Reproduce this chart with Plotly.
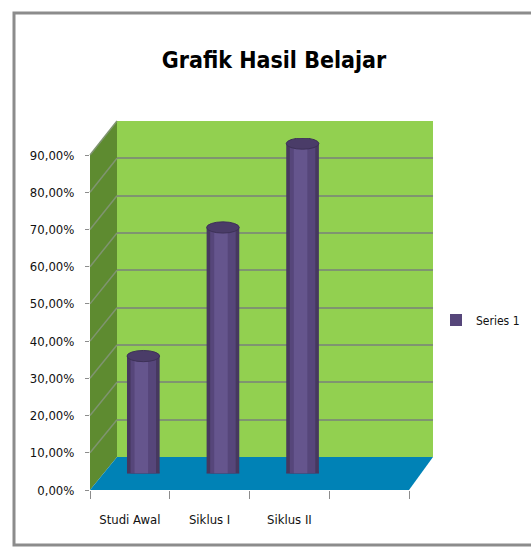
import plotly.graph_objects as go

# ---- data ----
categories = ["Studi Awal", "Siklus I", "Siklus II"]
values = [0.315, 0.66, 0.885]
series_name = "Series 1"
y_ticks = [0, 0.1, 0.2, 0.3, 0.4, 0.5, 0.6, 0.7, 0.8, 0.9]
title_text = "Grafik Hasil Belajar"

W, H = 531, 548
FONT = "Liberation Sans Narrow, DejaVu Sans Condensed, Arial Narrow, sans-serif"

def px_x(p):
    return p / W

def px_y(p):
    return 1 - p / H

# domains (pixel based)
front_x = [px_x(90), px_x(409)]
front_y = [px_y(490), px_y(155)]
back_x = [px_x(117), px_x(433)]
back_y = [px_y(457), px_y(121)]
bar_x = [px_x(103.5), px_x(422)]
bar_y = [px_y(473.5), px_y(138)]
YMAX = 0.9

fig = go.Figure()

# empty helper traces so that the wall-grid and front axes get drawn
fig.add_trace(go.Scatter(x=[None], y=[None], xaxis="x", yaxis="y", showlegend=False, hoverinfo="skip"))
fig.add_trace(go.Scatter(x=[None], y=[None], xaxis="x2", yaxis="y2", showlegend=False, hoverinfo="skip"))

# cylinder bodies (layered for shading)
fig.add_trace(go.Bar(x=categories, y=values, width=0.41, marker=dict(color="#46385F", line=dict(width=0)),
                     xaxis="x3", yaxis="y3", showlegend=False, hoverinfo="skip"))
fig.add_trace(go.Bar(x=categories, y=values, width=0.32, marker=dict(color="#56467A", line=dict(width=0)),
                     xaxis="x3", yaxis="y3", name=series_name, showlegend=True))
fig.add_trace(go.Bar(x=categories, y=values, width=0.17, offset=-0.11, marker=dict(color="#65558D", line=dict(width=0)),
                     xaxis="x3", yaxis="y3", showlegend=False, hoverinfo="skip"))

shapes = []
def P(x, y):
    return f"{px_x(x)},{px_y(y)}"

shapes.append(dict(type="rect", xref="paper", yref="paper", x0=back_x[0], x1=back_x[1], y0=back_y[0], y1=back_y[1],
                   fillcolor="#92D050", line=dict(width=0), layer="below"))
shapes.append(dict(type="path", xref="paper", yref="paper",
                   path=f"M{P(90,490)} L{P(90,155)} L{P(117,121)} L{P(117,457)} Z",
                   fillcolor="#5E8B30", line=dict(width=0), layer="below"))
shapes.append(dict(type="path", xref="paper", yref="paper",
                   path=f"M{P(90,490)} L{P(409,490)} L{P(433,457)} L{P(117,457)} Z",
                   fillcolor="#0082B6", line=dict(width=0), layer="below"))
for v in y_ticks[1:]:
    fy = 490 - v / YMAX * (490 - 155)
    by = 457 - v / YMAX * (457 - 121)
    shapes.append(dict(type="line", xref="paper", yref="paper", x0=px_x(90), y0=px_y(fy), x1=px_x(117), y1=px_y(by),
                       line=dict(color="#7F9470", width=1.5), layer="below"))

for i, v in enumerate(values):
    shapes.append(dict(type="circle", xref="x3", yref="y3", x0=i - 0.205, x1=i + 0.205, y0=-0.015, y1=0.015,
                       fillcolor="#4C3D69", line=dict(width=0), layer="below"))
    shapes.append(dict(type="circle", xref="x3", yref="y3", x0=i - 0.205, x1=i + 0.205, y0=v - 0.015, y1=v + 0.015,
                       fillcolor="#4A3C68", line=dict(color="#3D3157", width=1)))

shapes.append(dict(type="rect", xref="paper", yref="paper", x0=px_x(14), x1=px_x(545), y0=px_y(545), y1=px_y(13),
                   line=dict(color="#8C8C8C", width=3), fillcolor="rgba(0,0,0,0)", layer="above"))

fig.update_layout(
    width=W, height=H, autosize=False,
    margin=dict(l=0, r=0, t=0, b=0, autoexpand=False),
    paper_bgcolor="white", plot_bgcolor="rgba(0,0,0,0)",
    separators=",.",
    barmode="overlay",
    font=dict(family=FONT, size=13, color="#111111"),
    title=dict(text=f"<b>{title_text}</b>", x=px_x(274), y=px_y(60), xanchor="center", yanchor="middle",
               font=dict(family=FONT, size=23, color="#000000")),
    showlegend=True,
    legend=dict(x=px_x(436), y=px_y(320), xanchor="left", yanchor="middle", bgcolor="rgba(0,0,0,0)",
                font=dict(family=FONT, size=12, color="#111111"), itemwidth=30),
    shapes=shapes,
    xaxis=dict(domain=back_x, anchor="y", range=[0, 1], showticklabels=False, showgrid=False, zeroline=False,
               showline=False, ticks="", automargin=False),
    yaxis=dict(domain=back_y, anchor="x", range=[0, YMAX], tickvals=y_ticks[1:], showticklabels=False,
               showgrid=True, gridcolor="#7F9470", gridwidth=1.5, zeroline=False, showline=False, ticks="",
               automargin=False),
    xaxis2=dict(domain=front_x, anchor="y2", type="linear", range=[-0.5, 3.5], tickvals=[0, 1, 2],
                ticktext=categories, ticks="", showgrid=False, zeroline=False, showline=False, automargin=False,
                tickfont=dict(family=FONT, size=13, color="#111111"), ticklabelstandoff=20,
                minor=dict(tickvals=[-0.5, 0.5, 1.5, 2.5, 3.5], ticks="outside", ticklen=8, tickcolor="#8C8C8C",
                           tickwidth=1, showgrid=False)),
    yaxis2=dict(domain=front_y, anchor="x2", range=[0, YMAX], tickvals=y_ticks, tickformat=".2%",
                ticks="outside", ticklen=4, tickcolor="#8C8C8C", showgrid=False, zeroline=False, showline=False,
                automargin=False, tickfont=dict(family=FONT, size=13, color="#111111"), ticklabelstandoff=8),
    xaxis3=dict(domain=bar_x, anchor="y3", type="category", categoryorder="array", categoryarray=categories,
                range=[-0.5, 3.5], showticklabels=False, showgrid=False, zeroline=False, showline=False, ticks="",
                automargin=False),
    yaxis3=dict(domain=bar_y, anchor="x3", range=[0, YMAX], showticklabels=False, showgrid=False,
                zeroline=False, showline=False, ticks="", automargin=False),
)

fig.write_html("out.html", config={"displayModeBar": False},
               post_script="document.body.style.margin='0px';document.body.style.overflow='hidden';")
